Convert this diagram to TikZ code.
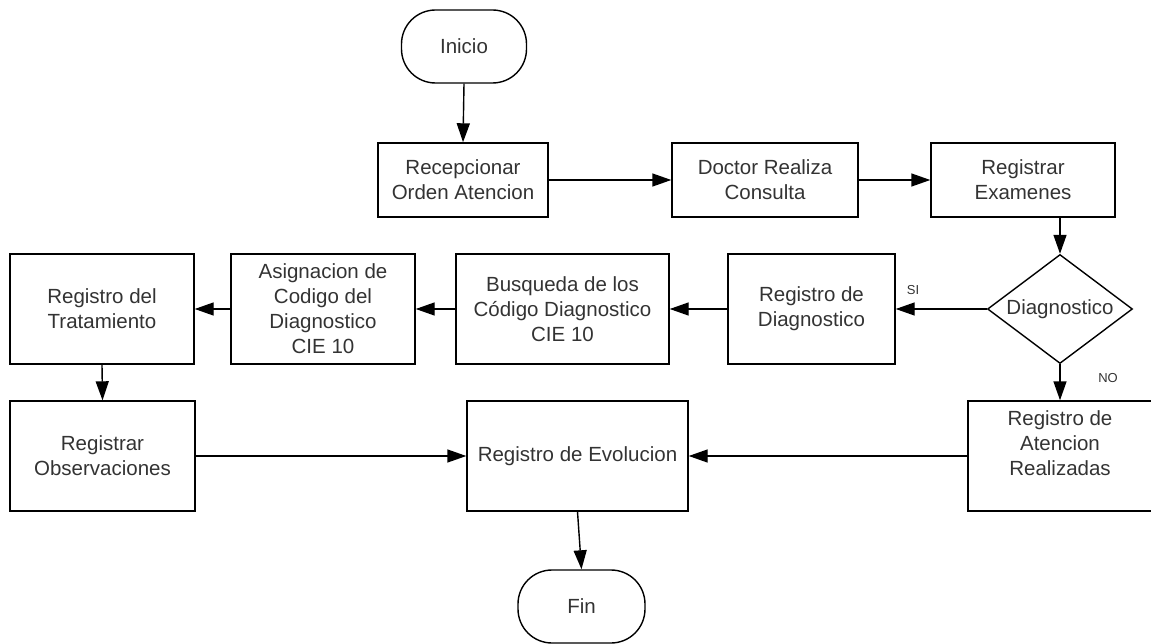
\documentclass[tikz,border=0pt]{standalone}
\usepackage{fontspec}
\setmainfont{Liberation Sans}
\usetikzlibrary{arrows.meta,shapes.geometric}
\tikzset{
  box/.style={draw=black, line width=1.4pt, rectangle, inner sep=0pt, align=center,
    text=black!80, font=\fontsize{20.5}{25}\selectfont},
  term/.style={box, rounded corners=34pt},
  dec/.style={draw=black, line width=1.4pt, diamond, inner sep=0pt},
  txt/.style={text=black!80, font=\fontsize{20.5}{25}\selectfont, align=center, inner sep=0pt},
  lbl/.style={text=black!80, font=\fontsize{13}{15}\selectfont, inner sep=0pt},
  conn/.style={draw=black, line width=1.4pt, -{Triangle[length=19pt,width=13pt]}}
}
\begin{document}
\begin{tikzpicture}[x=1pt,y=-1pt]
\useasboundingbox (0,0) rectangle (1151,644);
% row 0
\node[term, minimum width=125pt, minimum height=73pt] (ini) at (464,46.5) {Inicio};
% row 1
\node[box, minimum width=170pt, minimum height=74pt] (rec) at (463,180) {Recepcionar\\Orden Atencion};
\node[box, minimum width=186pt, minimum height=74pt] (doc) at (765,180) {Doctor Realiza\\Consulta};
\node[box, minimum width=184pt, minimum height=74pt] (exa) at (1023,180) {Registrar\\Examenes};
% row 2
\node[dec, minimum width=145pt, minimum height=109pt] (dg) at (1060,309) {};
\node[txt] (dgt) at (dg.center) {Diagnostico};
\node[box, minimum width=167pt, minimum height=110pt] (rd) at (811.5,309) {Registro de\\Diagnostico};
\node[box, minimum width=213pt, minimum height=110pt] (bus) at (562.5,309) {Busqueda de los\\Código Diagnostico\\CIE 10};
\node[box, minimum width=184pt, minimum height=110pt] (asig) at (323,309) {Asignacion de\\Codigo del\\Diagnostico\\CIE 10};
\node[box, minimum width=184pt, minimum height=110pt] (trat) at (102,309) {Registro del\\Tratamiento};
% row 3
\node[box, minimum width=185pt, minimum height=110pt] (obs) at (102.5,456) {Registrar\\Observaciones};
\node[box, minimum width=221pt, minimum height=110pt] (evo) at (577.5,456) {Registro de Evolucion};
\node[box, minimum width=185pt, minimum height=110pt] (ate) at (1060.5,456) {};
\node[txt] (atet) at (1060,443) {Registro de\\Atencion\\Realizadas};
% end
\node[term, minimum width=127pt, minimum height=73pt] (fin) at (581.5,606.5) {Fin};
% labels
\node[lbl] (si) at (913,290) {SI};
\node[lbl] (no) at (1108,378) {NO};
% connectors
\draw[conn] (ini.south) -- (rec.north);
\draw[conn] (rec.east) -- (doc.west);
\draw[conn] (doc.east) -- (exa.west);
\draw[conn] (dg.north |- exa.south) -- (dg.north);
\draw[conn] (dg.west) -- (rd.east);
\draw[conn] (rd.west) -- (bus.east);
\draw[conn] (bus.west) -- (asig.east);
\draw[conn] (asig.west) -- (trat.east);
\draw[conn] (trat.south) -- (obs.north);
\draw[conn] (dg.south) -- (dg.south |- ate.north);
\draw[conn] (obs.east) -- (evo.west);
\draw[conn] (ate.west) -- (evo.east);
\draw[conn] (evo.south) -- (fin.north);
\end{tikzpicture}
\end{document}
